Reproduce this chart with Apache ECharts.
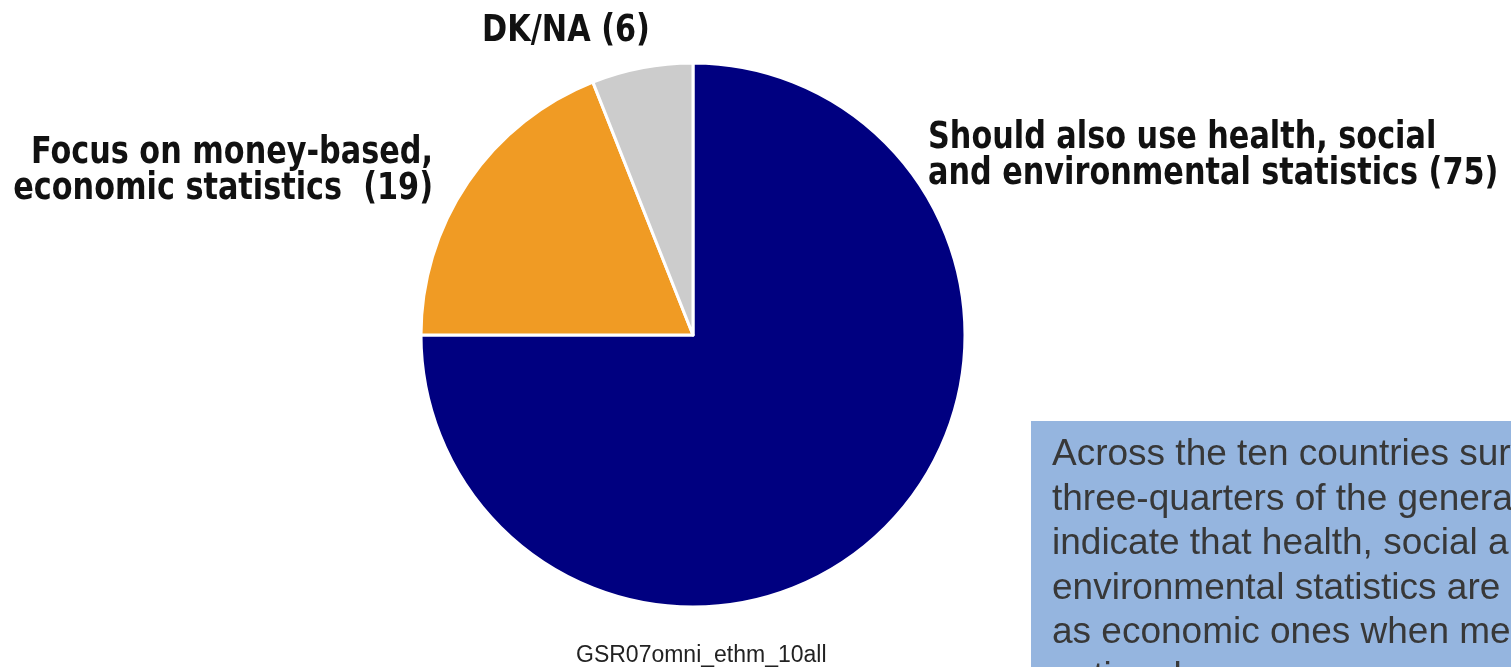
<!DOCTYPE html>
<html>
<head>
<meta charset="utf-8">
<script src="https://cdn.jsdelivr.net/npm/echarts@6/dist/echarts.min.js"></script>
<style>
  html, body { margin: 0; padding: 0; background: #ffffff; }
  #chart { width: 1511px; height: 667px; }
</style>
</head>
<body>
<div id="chart"></div>
<script>
// Survey answers: share of respondents (%)
const categories = [
  'Should also use health, social\nand environmental statistics',
  'Focus on money-based,\neconomic statistics ',
  'DK/NA'
];
const values = [75, 19, 6];
const colors = ['#000080', '#f09b24', '#cccccc'];
const sourceNote = 'GSR07omni_ethm_10all';
const summaryLines = [
  'Across the ten countries surveyed,',
  'three-quarters of the general public',
  'indicate that health, social and',
  'environmental statistics are as important',
  'as economic ones when measuring',
  'national progress.'
];

// Bold condensed face for the slice captions, narrowed a little more
const labelFont = 'bold 37px "DejaVu Sans Condensed", "DejaVu Sans", sans-serif';
const labelSqueeze = 0.91;

// Anchor of each slice caption (x, vertical middle of the text block, alignment)
const labelAnchors = [
  { x: 928, y: 156, align: 'left' },
  { x: 433, y: 171, align: 'right' },
  { x: 566, y: 31, align: 'center' }
];

const chart = echarts.init(document.getElementById('chart'), null, { renderer: 'canvas' });

const captionGraphics = categories.map((name, i) => ({
  type: 'text',
  x: labelAnchors[i].x,
  y: labelAnchors[i].y,
  scaleX: labelSqueeze,
  originX: 0,
  originY: 0,
  silent: true,
  style: {
    x: 0,
    y: 0,
    text: name + ' (' + values[i] + ')',
    font: labelFont,
    lineHeight: 36,
    align: labelAnchors[i].align,
    verticalAlign: 'middle',
    fill: '#111111'
  }
}));

chart.setOption({
  backgroundColor: '#ffffff',
  animation: false,
  series: [{
    type: 'pie',
    center: [693, 335],
    radius: 272,
    startAngle: 90,
    clockwise: true,
    data: categories.map((name, i) => ({
      name: name,
      value: values[i],
      itemStyle: { color: colors[i] }
    })),
    itemStyle: { borderColor: '#ffffff', borderWidth: 3 },
    emphasis: { disabled: true },
    label: { show: false },
    labelLine: { show: false }
  }],
  graphic: captionGraphics.concat([
    {
      type: 'text',
      x: 576,
      y: 656,
      silent: true,
      style: {
        text: sourceNote,
        font: '23px "Liberation Sans", Arial, sans-serif',
        verticalAlign: 'middle',
        fill: '#222222'
      }
    },
    {
      type: 'rect',
      silent: true,
      shape: { x: 1031, y: 421, width: 600, height: 400 },
      style: { fill: '#95b5df' }
    },
    {
      type: 'text',
      x: 1052,
      y: 433,
      silent: true,
      style: {
        text: summaryLines.join('\n'),
        font: '37px "Liberation Sans", Arial, sans-serif',
        lineHeight: 44.5,
        verticalAlign: 'top',
        fill: '#383838'
      }
    }
  ])
});
</script>
</body>
</html>
